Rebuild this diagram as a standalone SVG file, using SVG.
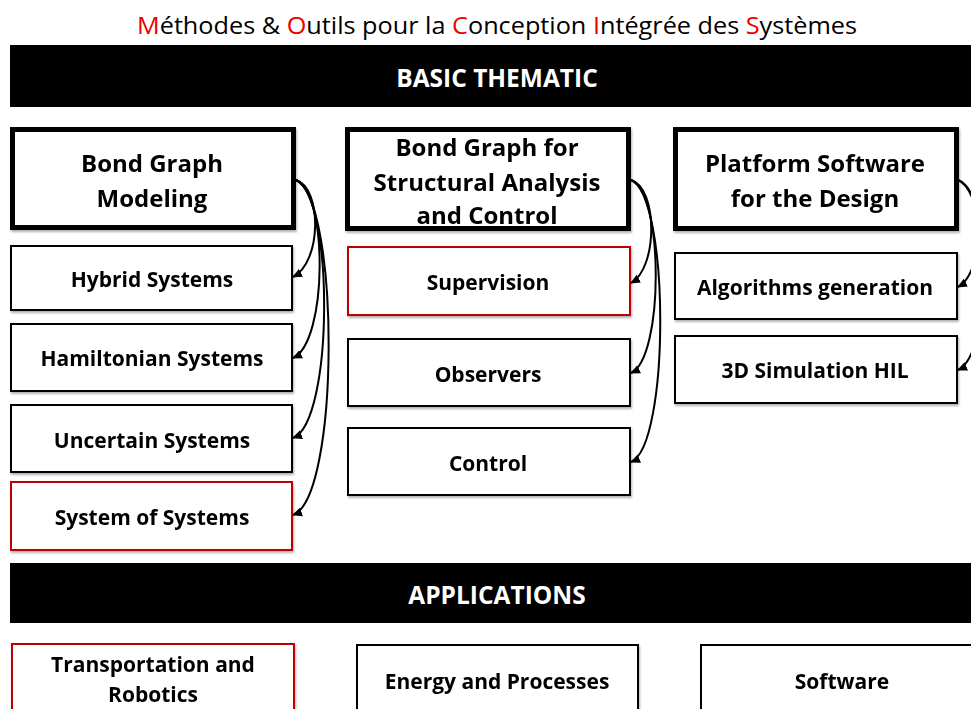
<svg xmlns="http://www.w3.org/2000/svg" width="971" height="709" viewBox="0 0 971 709">
<defs>
<style>
text{font-family:"Open Sans","Liberation Sans",sans-serif;fill:#000;text-anchor:middle;dominant-baseline:central}
.b{font-weight:bold;font-size:21px}
.h{font-weight:bold;font-size:24px}
.band{fill:#000}
.bt{fill:#fff;font-weight:bold;font-size:24.5px}
.thick{fill:#fff;stroke:#000;stroke-width:5}
.thin{fill:#fff;stroke:#000;stroke-width:2}
.red{fill:#fff;stroke:#c00000;stroke-width:2}
.conn{fill:none;stroke:#000;stroke-width:2}
.r{fill:#ee0000}
</style>
<marker id="ah" markerUnits="userSpaceOnUse" markerWidth="10" markerHeight="10" viewBox="0 0 10 10" refX="9" refY="5" orient="auto">
<path d="M0,0.5 L10,5 L0,9.5 z" fill="#000"/>
</marker>
<filter id="sh" x="-5%" y="-5%" width="110%" height="115%"><feDropShadow dx="1" dy="2" stdDeviation="1.2" flood-color="#000" flood-opacity="0.3"/></filter>
</defs>
<rect width="971" height="709" fill="#fff"/>
<g id="title">
<text x="497" y="24" style="font-size:24px" textLength="720" lengthAdjust="spacingAndGlyphs"><tspan class="r">M</tspan>éthodes &amp; <tspan class="r">O</tspan>utils pour la <tspan class="r">C</tspan>onception <tspan class="r">I</tspan>ntégrée des <tspan class="r">S</tspan>ystèmes</text>
</g>
<g id="band-basic">
<rect class="band" x="10" y="45" width="961" height="62"/>
<text class="bt" x="497" y="77">BASIC THEMATIC</text>
</g>
<g id="bgm" filter="url(#sh)">
<rect class="thick" x="12.5" y="129.5" width="281" height="98"/>
<text class="h" x="152" y="162">Bond Graph</text>
<text class="h" x="152" y="197">Modeling</text>
</g>
<g id="hybrid" filter="url(#sh)">
<rect class="thin" x="11" y="246" width="281" height="64"/>
<text class="b" x="152" y="279">Hybrid Systems</text>
</g>
<g id="hamiltonian" filter="url(#sh)">
<rect class="thin" x="11" y="324" width="281" height="67"/>
<text class="b" x="152" y="358">Hamiltonian Systems</text>
</g>
<g id="uncertain" filter="url(#sh)">
<rect class="thin" x="11" y="405" width="281" height="67"/>
<text class="b" x="152" y="440">Uncertain Systems</text>
</g>
<g id="sos" filter="url(#sh)">
<rect class="red" x="11" y="482" width="281" height="68"/>
<text class="b" x="152" y="517">System of Systems</text>
</g>
<g id="bgsac" filter="url(#sh)">
<rect class="thick" x="347.5" y="129.5" width="281" height="99"/>
<text class="h" x="487" y="146">Bond Graph for</text>
<text class="h" x="487" y="181">Structural Analysis</text>
<text class="h" x="487" y="214">and Control</text>
</g>
<g id="supervision" filter="url(#sh)">
<rect class="red" x="348" y="247" width="282" height="68"/>
<text class="b" x="488" y="282">Supervision</text>
</g>
<g id="observers" filter="url(#sh)">
<rect class="thin" x="348" y="339" width="282" height="67"/>
<text class="b" x="488" y="374">Observers</text>
</g>
<g id="control" filter="url(#sh)">
<rect class="thin" x="348" y="428" width="282" height="67"/>
<text class="b" x="488" y="463">Control</text>
</g>
<g id="platform" filter="url(#sh)">
<rect class="thick" x="675.5" y="129.5" width="281" height="99"/>
<text class="h" x="815" y="162">Platform Software</text>
<text class="h" x="815" y="197">for the Design</text>
</g>
<g id="algorithms" filter="url(#sh)">
<rect class="thin" x="675" y="253" width="282" height="66"/>
<text class="b" x="815" y="287">Algorithms generation</text>
</g>
<g id="sim3d" filter="url(#sh)">
<rect class="thin" x="675" y="336" width="282" height="67"/>
<text class="b" x="815" y="370">3D Simulation HIL</text>
</g>
<g id="band-applications">
<rect class="band" x="10" y="563" width="961" height="60"/>
<text class="bt" x="497" y="594">APPLICATIONS</text>
</g>
<g id="transport" filter="url(#sh)">
<rect class="red" x="12" y="644" width="282" height="80"/>
<text class="b" x="153" y="664">Transportation and</text>
<text class="b" x="153" y="694">Robotics</text>
</g>
<g id="energy" filter="url(#sh)">
<rect class="thin" x="357" y="645" width="281" height="80"/>
<text class="b" x="497" y="681">Energy and Processes</text>
</g>
<g id="software" filter="url(#sh)">
<rect class="thin" x="701" y="645" width="290" height="80"/>
<text class="b" x="842" y="681">Software</text>
</g>
<g id="connectors">
<path class="conn" marker-end="url(#ah)" d="M296,180 C322,188 322,262 293,277"/>
<path class="conn" marker-end="url(#ah)" d="M296,180 C328,192 328,342 293,358"/>
<path class="conn" marker-end="url(#ah)" d="M296,180 C334,196 334,422 293,438"/>
<path class="conn" marker-end="url(#ah)" d="M296,180 C340,200 340,498 293,515"/>
<path class="conn" marker-end="url(#ah)" d="M631,180 C658,188 658,268 631,283"/>
<path class="conn" marker-end="url(#ah)" d="M631,180 C664,192 664,358 631,373"/>
<path class="conn" marker-end="url(#ah)" d="M631,180 C670,196 670,446 631,462"/>
<path class="conn" marker-end="url(#ah)" d="M958,180 C985,190 985,272 958,287"/>
<path class="conn" marker-end="url(#ah)" d="M958,180 C992,194 992,355 958,370"/>
</g>
</svg>
